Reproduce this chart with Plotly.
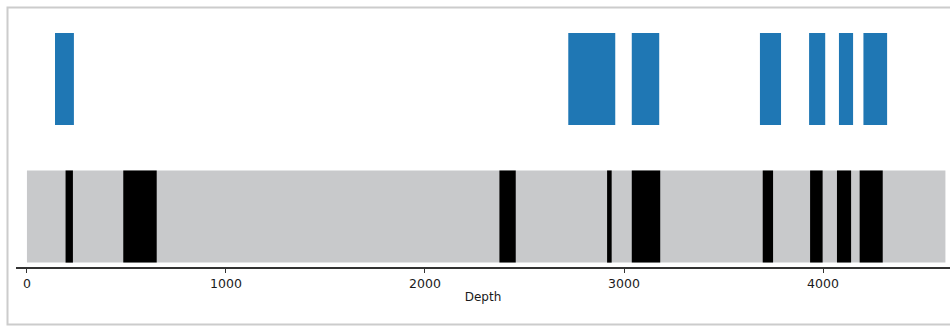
import plotly.graph_objects as go

# Depth intervals (start, end)
blue_starts = [141, 2720, 3039, 3683, 3930, 4080, 4203]
blue_ends = [236, 2956, 3177, 3789, 4011, 4151, 4322]

band_start = [0]
band_end = [4615]

black_starts = [194, 484, 2374, 2915, 3039, 3697, 3935, 4070, 4184]
black_ends = [231, 652, 2456, 2938, 3182, 3749, 3998, 4141, 4300]

tick_vals = [0, 1000, 2000, 3000, 4000]
tick_text = ["0", "1000", "2000", "3000", "4000"]

row_band = 0
row_blue = 1
bar_w = 0.67

fig = go.Figure()
fig.add_trace(go.Bar(
    orientation="h",
    base=band_start,
    x=[e - s for s, e in zip(band_start, band_end)],
    y=[row_band] * len(band_start),
    width=bar_w,
    marker=dict(color="#c8c9cb", line=dict(width=0)),
    showlegend=False, hoverinfo="skip",
))
fig.add_trace(go.Bar(
    orientation="h",
    base=black_starts,
    x=[e - s for s, e in zip(black_starts, black_ends)],
    y=[row_band] * len(black_starts),
    width=bar_w,
    marker=dict(color="#000000", line=dict(width=0)),
    showlegend=False, hoverinfo="skip",
))
fig.add_trace(go.Bar(
    orientation="h",
    base=blue_starts,
    x=[e - s for s, e in zip(blue_starts, blue_ends)],
    y=[row_blue] * len(blue_starts),
    width=bar_w,
    marker=dict(color="#1f77b4", line=dict(width=0)),
    showlegend=False, hoverinfo="skip",
))

fig.update_layout(
    width=950, height=326,
    margin=dict(l=16, r=0, t=20, b=59),
    paper_bgcolor="white", plot_bgcolor="white",
    barmode="overlay",
    font=dict(family="DejaVu Sans", size=12, color="#1a1a1a"),
    xaxis=dict(
        range=[-55, 4638],
        tickvals=tick_vals, ticktext=tick_text,
        ticks="outside", ticklen=4, tickwidth=1, tickcolor="#333333",
        showline=True, linecolor="#333333", linewidth=1.5,
        showgrid=False, zeroline=False,
        title=dict(text="Depth", standoff=3, font=dict(size=12)),
        tickfont=dict(size=12.5),
    ),
    yaxis=dict(
        range=[-0.367, 1.429],
        visible=False, showgrid=False, zeroline=False,
    ),
    shapes=[dict(
        type="rect", xref="paper", yref="paper",
        x0=-0.0091, x1=1.05, y0=-0.2328, y1=1.0506,
        line=dict(color="#cccccc", width=2), fillcolor="rgba(0,0,0,0)",
        layer="above",
    )],
)

fig.write_html("out.html")
